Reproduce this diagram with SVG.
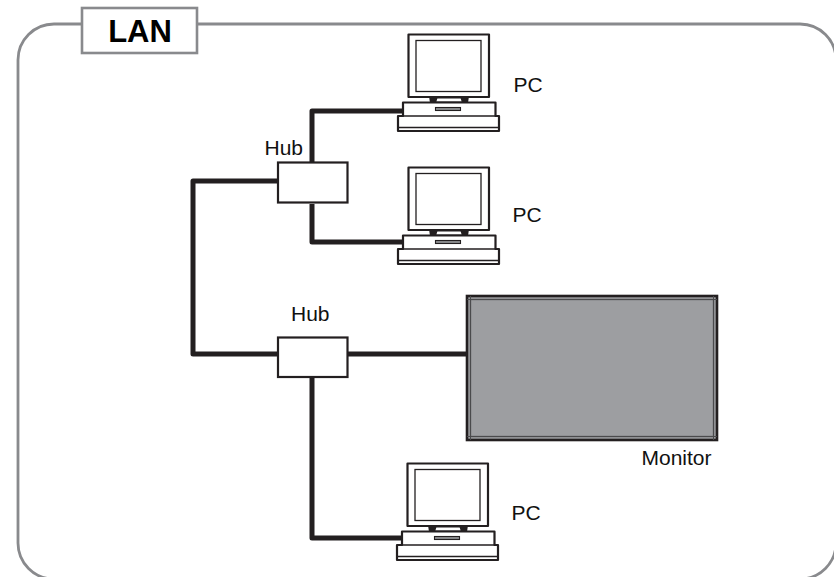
<svg xmlns="http://www.w3.org/2000/svg" width="834" height="577" viewBox="0 0 834 577">
<style>
.frame{fill:#fff;stroke:#898a8d;stroke-width:2.8}
.lan{fill:#fff;stroke:#898a8d;stroke-width:2.6}
.wire{fill:none;stroke:#231f20;stroke-width:5;stroke-linejoin:round}
.box{fill:#fff;stroke:#231f20;stroke-width:2.2}
.ln{fill:#fff;stroke:#231f20;stroke-width:2.2;stroke-linejoin:round}
.th{fill:none;stroke:#231f20;stroke-width:1.3}
.bk{fill:#231f20}
text{font-family:"Liberation Sans",Arial,sans-serif;fill:#111}
.t{font-size:21px}
</style>
<defs>
<g id="pc">
<rect class="ln" x="408.500" y="34.500" width="80.500" height="62.500"/>
<rect class="th" x="416" y="40.500" width="65" height="51"/>
<path class="ln" d="M403 102.500H495.500V116H499V131H398V116H403Z"/>
<path class="th" d="M398 127.500H499M403 116H495.500"/>
<path class="th" d="M434 98H464M434 102H464" style="stroke-width:1"/>
<path class="bk" d="M429 96H438L436 103H430ZM460 96H469L468 103H462Z"/>
<rect x="435.500" y="107.500" width="25" height="3" fill="#8b8c8e" stroke="#231f20" stroke-width="1.100"/>
</g>
</defs>
<rect class="frame" x="18" y="24" width="818" height="555" rx="36"/>
<g id="lan-label">
<rect class="lan" x="82" y="8" width="115" height="45"/>
<text x="140" y="42" text-anchor="middle" font-size="31" font-weight="bold" style="fill:#000">LAN</text>
</g>
<g id="connectors">
<path class="wire" d="M403 111H312V163M312 204V242H403"/>
<path class="wire" d="M277 181H193V354H277"/>
<path class="wire" d="M348 354H468"/>
<path class="wire" d="M312 378V538H402"/>
</g>
<g id="pc1"><use href="#pc"/><text class="t" x="513.500" y="92">PC</text></g>
<g id="pc2"><use href="#pc" y="133"/><text class="t" x="512.500" y="222">PC</text></g>
<g id="pc3"><use href="#pc" x="-1" y="429"/><text class="t" x="511.500" y="520">PC</text></g>
<g id="hub1"><rect class="box" x="278" y="162.500" width="69.500" height="40"/><text class="t" x="264.500" y="154.500">Hub</text></g>
<g id="hub2"><rect class="box" x="278" y="337.500" width="69.500" height="39.500"/><text class="t" x="291" y="320.500">Hub</text></g>
<g id="monitor">
<rect x="467" y="296" width="250" height="144" fill="#9d9ea1" stroke="#231f20" stroke-width="2.6"/>
<rect x="470.500" y="299.500" width="243" height="137" fill="none" stroke="#4a4a4c" stroke-width="1.300"/>
<path d="M470.500 296V440M713.500 296V440M467 299.500H717M467 436.500H717" fill="none" stroke="#4a4a4c" stroke-width="1"/>
<text class="t" x="641.500" y="465">Monitor</text>
</g>
</svg>
